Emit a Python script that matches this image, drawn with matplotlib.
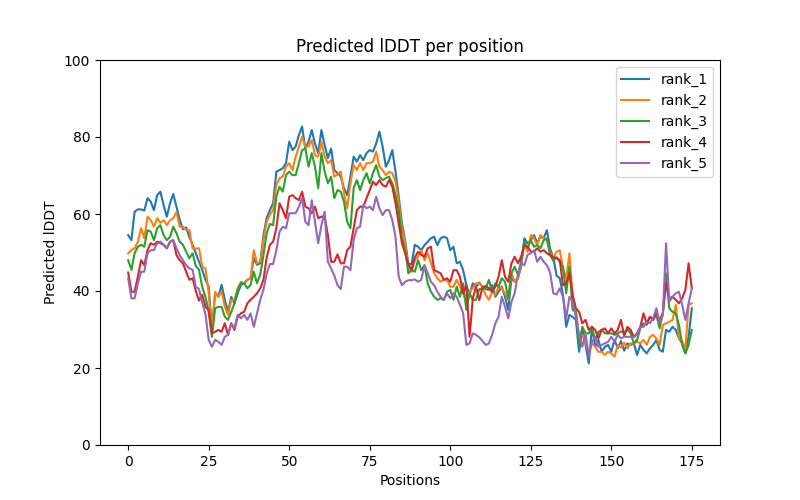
import numpy as np
import matplotlib
matplotlib.use('Agg')
import matplotlib.pyplot as plt

#############################################
## Data: predicted lDDT per residue, 5 models
#############################################
rank_1 = [54.5, 53.2, 60.6, 61.2, 61.2, 60.9, 64.1, 63.2, 61.0, 64.9,
          65.8, 62.3, 59.3, 62.8, 65.2, 61.9, 58.5, 56.0, 56.5, 54.0,
          52.0, 49.8, 47.6, 45.5, 42.9, 41.1, 30.3, 39.4, 38.5, 41.6,
          37.7, 34.6, 38.5, 36.8, 39.4, 41.6, 42.0, 42.9, 43.3, 48.5,
          46.8, 47.2, 54.5, 59.0, 61.0, 62.8, 71.0, 71.4, 71.9, 73.2,
          78.8, 76.6, 77.5, 80.5, 82.7, 77.0, 78.8, 81.8, 78.3, 75.8,
          81.8, 77.9, 74.5, 77.0, 71.4, 70.6, 69.7, 66.7, 64.9, 69.7,
          74.9, 73.6, 75.3, 74.0, 75.8, 76.6, 76.2, 78.3, 81.4, 77.5,
          72.3, 74.0, 76.6, 71.0, 64.5, 57.6, 53.0, 47.0, 47.0, 52.0,
          51.5, 50.6, 51.9, 52.8, 53.7, 54.1, 51.9, 53.7, 54.1, 53.7,
          50.6, 51.5, 47.2, 47.6, 45.4, 41.5, 39.0, 42.0, 41.1, 42.2,
          41.1, 40.5, 40.3, 41.5, 38.5, 39.8, 41.1, 38.5, 35.1, 43.3,
          42.4, 43.3, 46.3, 53.7, 52.4, 53.2, 54.5, 52.4, 54.1, 53.7,
          55.8, 51.0, 48.7, 44.0, 43.3, 39.0, 30.7, 33.8, 33.3, 32.5,
          24.2, 30.3, 26.0, 21.2, 30.7, 25.5, 27.3, 24.2, 25.5, 26.0,
          24.2, 27.3, 25.1, 27.0, 24.5, 26.4, 26.0, 26.4, 23.4, 26.0,
          24.7, 23.8, 25.1, 26.0, 27.3, 24.7, 24.2, 29.9, 29.4, 30.7,
          29.9, 27.7, 26.4, 23.8, 28.1, 35.5]
rank_2 = [49.8, 50.6, 51.1, 52.8, 56.3, 53.7, 59.3, 58.4, 56.7, 58.9,
          57.7, 58.4, 57.1, 58.4, 58.9, 60.5, 56.7, 56.7, 55.8, 55.8,
          51.1, 51.0, 51.1, 46.3, 45.9, 39.4, 29.4, 39.8, 38.5, 39.8,
          35.9, 33.8, 37.7, 37.7, 40.7, 42.4, 42.0, 42.9, 43.3, 50.6,
          47.2, 47.6, 53.2, 58.0, 59.8, 61.0, 67.5, 69.3, 69.7, 72.3,
          73.2, 71.4, 74.9, 77.5, 80.1, 77.5, 77.5, 79.2, 75.3, 74.9,
          78.8, 74.9, 73.2, 74.0, 69.7, 70.3, 71.0, 65.4, 61.5, 68.0,
          72.7, 71.4, 73.2, 71.4, 73.2, 73.2, 73.6, 76.2, 72.3, 71.4,
          70.1, 71.0, 70.6, 68.4, 63.2, 56.3, 52.4, 46.0, 45.0, 48.0,
          48.9, 50.6, 48.0, 49.8, 47.2, 44.6, 43.3, 42.4, 42.9, 42.9,
          41.1, 41.1, 42.9, 41.1, 39.4, 36.8, 39.8, 40.7, 42.0, 42.0,
          41.0, 39.0, 37.7, 39.8, 39.0, 41.1, 40.7, 39.4, 37.7, 44.6,
          42.4, 43.3, 46.7, 52.4, 50.2, 54.5, 53.7, 51.9, 54.5, 53.7,
          53.2, 50.0, 48.7, 50.2, 50.6, 45.9, 43.3, 49.8, 38.5, 35.1,
          28.1, 28.6, 26.4, 24.2, 26.4, 25.5, 24.2, 24.2, 23.4, 24.2,
          23.8, 22.9, 26.0, 25.3, 26.6, 25.1, 26.4, 26.4, 26.8, 26.4,
          27.3, 26.0, 28.1, 28.6, 27.7, 26.0, 31.2, 31.6, 32.0, 32.5,
          36.4, 27.7, 27.0, 25.0, 36.4, 36.8]
rank_3 = [48.0, 45.5, 49.8, 51.5, 52.0, 51.5, 55.8, 55.4, 53.2, 56.3,
          57.1, 54.5, 53.2, 54.1, 56.7, 55.0, 52.8, 52.0, 50.2, 48.5,
          49.8, 46.5, 45.5, 41.0, 38.5, 34.6, 28.1, 35.5, 35.9, 35.9,
          33.3, 32.5, 34.6, 36.8, 40.3, 42.0, 42.0, 40.7, 41.6, 45.0,
          42.0, 44.2, 49.4, 55.0, 57.4, 57.1, 64.5, 67.1, 65.8, 70.1,
          71.0, 70.1, 70.1, 73.2, 76.6, 77.0, 72.3, 75.8, 72.3, 66.7,
          75.8, 71.0, 68.0, 69.7, 64.1, 66.2, 65.8, 63.2, 58.0, 56.3,
          66.7, 68.8, 66.2, 68.8, 70.6, 68.0, 70.6, 72.7, 69.7, 68.8,
          69.3, 69.7, 68.0, 64.9, 61.0, 53.7, 50.6, 44.6, 45.5, 45.0,
          48.0, 45.4, 46.7, 42.0, 39.8, 38.5, 37.7, 38.1, 37.7, 39.8,
          40.3, 37.7, 41.1, 38.5, 42.0, 35.1, 39.4, 37.7, 37.7, 40.5,
          40.5, 40.7, 42.9, 39.8, 42.0, 41.1, 43.3, 42.4, 38.1, 44.6,
          46.3, 44.2, 47.6, 52.8, 51.1, 53.2, 51.5, 51.9, 51.1, 53.2,
          53.7, 49.3, 47.8, 48.7, 47.6, 46.3, 39.4, 46.3, 35.1, 34.6,
          26.0, 30.7, 29.0, 29.0, 30.3, 27.3, 29.4, 29.9, 29.0, 29.0,
          29.0, 28.6, 29.0, 29.5, 29.2, 30.0, 29.0, 26.4, 27.3, 30.3,
          31.6, 31.2, 33.3, 32.5, 33.8, 30.3, 34.2, 44.6, 35.5, 34.6,
          34.2, 31.2, 26.0, 23.8, 26.0, 29.9]
rank_4 = [44.8, 39.8, 39.8, 43.7, 48.0, 46.7, 50.6, 52.4, 52.0, 52.8,
          52.4, 52.0, 51.1, 52.8, 53.2, 49.3, 48.0, 47.2, 45.0, 42.9,
          43.3, 40.0, 37.5, 39.0, 35.9, 35.0, 29.0, 29.4, 29.9, 29.4,
          31.6, 28.6, 31.6, 29.9, 33.3, 34.2, 34.6, 36.8, 37.7, 38.5,
          39.4, 40.7, 42.9, 48.7, 52.0, 52.8, 56.3, 62.8, 61.0, 58.9,
          64.5, 64.9, 64.1, 63.6, 65.8, 61.9, 61.5, 60.2, 61.9, 58.9,
          59.3, 59.3, 54.5, 47.6, 47.6, 49.5, 47.2, 47.2, 50.6, 51.5,
          56.3, 61.0, 61.9, 61.9, 64.1, 66.2, 68.4, 67.5, 68.8, 67.5,
          67.1, 68.8, 67.1, 62.8, 57.6, 52.4, 49.8, 47.0, 45.5, 48.7,
          50.2, 49.4, 48.9, 51.1, 51.5, 45.4, 45.0, 44.6, 42.9, 43.3,
          42.4, 45.4, 45.4, 43.7, 39.4, 41.5, 28.1, 38.1, 41.1, 37.6,
          41.0, 41.3, 40.7, 39.8, 41.1, 43.7, 48.0, 43.7, 42.4, 47.2,
          48.9, 47.2, 48.9, 51.9, 51.5, 50.2, 50.2, 51.1, 50.2, 50.6,
          49.8, 49.3, 48.7, 48.7, 48.0, 41.5, 42.0, 44.6, 39.0, 35.5,
          34.6, 31.6, 32.5, 29.9, 30.7, 29.9, 27.7, 29.9, 30.3, 29.0,
          30.3, 29.0, 29.9, 32.5, 28.3, 30.7, 29.9, 28.1, 29.0, 30.7,
          34.2, 31.6, 33.3, 32.5, 34.2, 32.5, 34.2, 42.0, 38.1, 38.5,
          37.7, 36.8, 38.1, 40.3, 47.2, 40.7]
rank_5 = [43.3, 38.1, 38.1, 42.0, 45.0, 45.0, 49.8, 50.6, 50.6, 52.4,
          52.8, 52.0, 51.1, 52.8, 53.2, 51.1, 49.3, 48.0, 46.7, 45.9,
          45.5, 41.1, 40.5, 37.0, 34.0, 27.3, 25.5, 27.3, 26.8, 26.0,
          28.1, 28.6, 31.6, 30.3, 33.8, 32.9, 33.8, 32.5, 34.2, 30.7,
          34.2, 37.7, 40.3, 44.5, 47.0, 47.0, 50.6, 55.4, 56.7, 56.3,
          60.2, 60.2, 60.2, 61.9, 64.1, 58.0, 57.1, 63.6, 58.0, 52.4,
          57.1, 60.6, 47.6, 45.9, 44.0, 41.5, 40.5, 46.3, 46.3, 45.4,
          53.2, 56.3, 56.7, 62.3, 61.5, 61.9, 61.0, 64.5, 61.5, 59.7,
          61.0, 61.0, 58.4, 54.1, 43.7, 41.5, 42.4, 42.8, 42.8, 43.0,
          42.4, 42.9, 46.7, 44.6, 42.4, 41.5, 39.8, 38.5, 37.7, 39.4,
          38.1, 39.4, 38.5, 36.4, 34.2, 26.0, 26.4, 29.0, 28.6, 28.0,
          27.0, 26.0, 26.4, 28.6, 31.6, 33.3, 38.5, 35.9, 32.9, 37.2,
          39.4, 44.2, 47.2, 46.7, 49.4, 49.8, 50.6, 47.6, 48.9, 47.6,
          46.7, 44.8, 39.4, 39.1, 40.7, 38.5, 32.9, 38.5, 37.2, 33.3,
          28.6, 25.5, 29.0, 22.9, 26.8, 28.1, 25.5, 26.0, 26.4, 26.8,
          28.1, 26.8, 28.6, 27.7, 28.1, 28.1, 28.1, 28.1, 28.6, 30.7,
          30.7, 32.0, 31.6, 32.9, 35.5, 31.6, 33.8, 52.4, 37.2, 38.5,
          39.4, 39.8, 36.4, 32.5, 36.8, 40.7]

series = {'rank_1': rank_1, 'rank_2': rank_2, 'rank_3': rank_3,
          'rank_4': rank_4, 'rank_5': rank_5}

#############################################
## Plot
#############################################
fig, ax = plt.subplots(figsize=(8, 5), dpi=100)

for name, vals in series.items():
    ax.plot(np.arange(len(vals)), vals, label=name)

ax.set_title('Predicted lDDT per position')
ax.set_xlabel('Positions')
ax.set_ylabel('Predicted lDDT')
ax.set_ylim(0, 100)
ax.legend(loc='upper right')

plt.savefig('out.png')
